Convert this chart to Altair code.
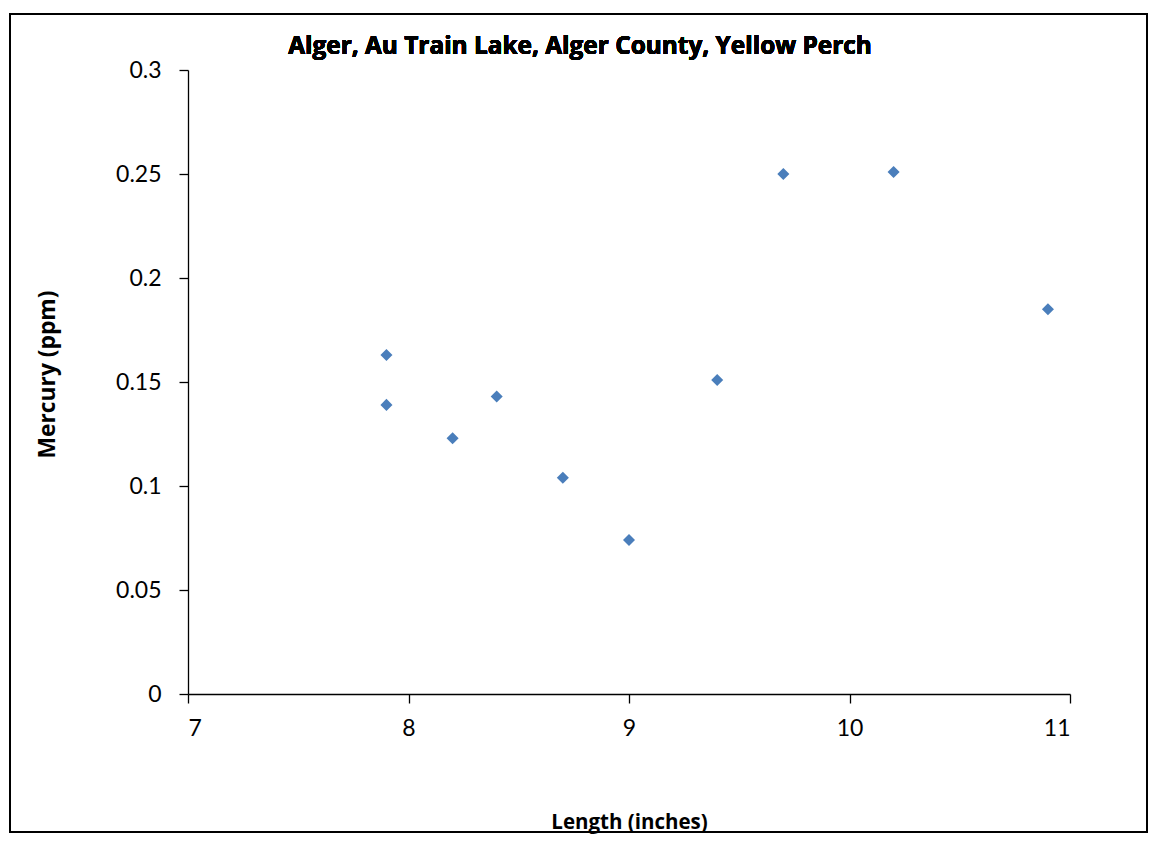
import altair as alt
import pandas as pd

length_in = [7.9, 7.9, 8.2, 8.4, 8.7, 9.0, 9.4, 9.7, 10.2, 10.9]
mercury_ppm = [0.163, 0.139, 0.123, 0.143, 0.104, 0.074, 0.151, 0.250, 0.251, 0.185]
title_text = "Alger, Au Train Lake, Alger County, Yellow Perch"

df = pd.DataFrame({"Length": length_in, "Mercury": mercury_ppm})

W, H = 882, 624
FONT = "Lato"
TFONT = "Open Sans"

points = alt.Chart(df).mark_point(
    shape="diamond", filled=True, size=145, color="#4a7ebb", opacity=1
).encode(
    x=alt.X("Length:Q", scale=alt.Scale(domain=[7, 11], nice=False, zero=False),
            axis=alt.Axis(values=[7, 8, 9, 10, 11], format="d", title="Length (inches)",
                          titlePadding=72, labelPadding=14, titleFontSize=20.5,
                          grid=False)),
    y=alt.Y("Mercury:Q", scale=alt.Scale(domain=[0, 0.3], nice=False),
            axis=alt.Axis(values=[0, 0.05, 0.1, 0.15, 0.2, 0.25, 0.3], format="~g",
                          title="Mercury (ppm)", titlePadding=56, labelPadding=18,
                          titleFontSize=22.8, titleY=304, grid=False)),
)

frame = alt.Chart(df).mark_rect(fill=None, stroke="black", strokeWidth=1.5).encode(
    x=alt.value(-178), x2=alt.value(W + 77), y=alt.value(-56), y2=alt.value(H + 138)
)

title = alt.Chart(df).mark_text(
    text=title_text, font=TFONT, fontSize=24.4, fontWeight="bold", color="black",
    align="center", baseline="alphabetic"
).encode(x=alt.value(W / 2 - 49), y=alt.value(-16))

chart = alt.layer(frame, points, title).properties(
    width=W, height=H,
    padding={"left": 180, "top": 62, "right": 78, "bottom": 140},
    autosize=alt.AutoSizeParams(type="none"),
).configure_view(stroke=None).configure_axis(
    domainColor="black", tickColor="black", tickSize=9, domainWidth=1.3, tickWidth=1.3,
    labelFont=FONT, labelFontSize=23, labelColor="black",
    titleFont=TFONT, titleFontWeight="bold", titleColor="black",
)

chart.save("out.html", embed_options={"renderer": "svg", "actions": False})
